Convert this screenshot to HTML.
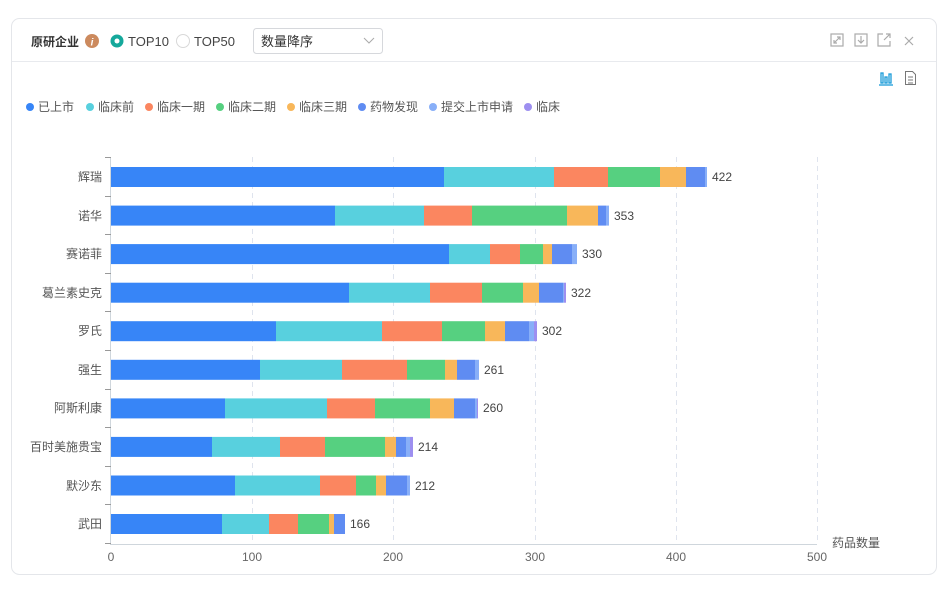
<!DOCTYPE html>
<html><head><meta charset="utf-8"><style>
body{margin:0;width:946px;height:585px;background:#fff;font-family:"Liberation Sans","Noto Sans CJK SC",sans-serif;overflow:hidden}
</style></head><body>
<svg width="946" height="585" xmlns="http://www.w3.org/2000/svg" font-family="Liberation Sans, Noto Sans CJK SC, sans-serif">
<rect x="11.5" y="18.5" width="925" height="556" rx="8" fill="#fff" stroke="#e4e6ea"/>
<line x1="12" y1="61.5" x2="936" y2="61.5" stroke="#e8eaee"/>
<text x="31" y="46" font-size="12" font-weight="bold" fill="#333">原研企业</text>
<circle cx="92" cy="41" r="7" fill="#cc8a5e"/><text x="92" y="45.5" font-size="10" fill="#fff" text-anchor="middle" font-style="italic" font-weight="bold">i</text>
<circle cx="117" cy="41" r="6.5" fill="#15a89b"/><circle cx="117" cy="41" r="2.5" fill="#fff"/>
<text x="128" y="46" font-size="13" fill="#444">TOP10</text>
<circle cx="183" cy="41" r="6.5" fill="#fff" stroke="#d8d8d8"/>
<text x="194" y="46" font-size="13" fill="#444">TOP50</text>
<rect x="253.5" y="28.5" width="129" height="25" rx="3" fill="#fff" stroke="#d6d8dc"/>
<text x="261" y="46" font-size="13" fill="#333">数量降序</text>
<polyline points="364,38 369,43 374,38" fill="none" stroke="#aaa"/>
<g fill="none" stroke="#aaa" stroke-width="1.2">
<rect x="831" y="34" width="12" height="12"/><path d="M834 43l6-6M837 37h3v3M834 40v3h3"/>
<rect x="855" y="34" width="12" height="12"/><path d="M861 36v7M858 40l3 3 3-3"/>
<path d="M883 34h-5v12h12v-5M884 40l6-6M886 34h4v4"/>
<path d="M905 37l8 8M913 37l-8 8"/>
</g>
<g stroke="#1a9bd8" stroke-width="1.3" fill="none"><rect x="881" y="73" width="2" height="10"/><rect x="885" y="77" width="2" height="6"/><rect x="889" y="74" width="2" height="9"/><line x1="879" y1="85" x2="893" y2="85"/></g>
<g stroke="#777" fill="none"><path d="M905.5 71.5h7l3 3v10h-10z"/><path d="M908 77h5M908 80h5M908 83h5"/></g>
<g font-size="12" fill="#555">
<circle cx="30" cy="107" r="4" fill="#3785f7"/><text x="38" y="111">已上市</text>
<circle cx="90" cy="107" r="4" fill="#58d0de"/><text x="98" y="111">临床前</text>
<circle cx="149" cy="107" r="4" fill="#fb8660"/><text x="157" y="111">临床一期</text>
<circle cx="220" cy="107" r="4" fill="#56d080"/><text x="228" y="111">临床二期</text>
<circle cx="291" cy="107" r="4" fill="#f8b75a"/><text x="299" y="111">临床三期</text>
<circle cx="362" cy="107" r="4" fill="#5f8cf2"/><text x="370" y="111">药物发现</text>
<circle cx="433" cy="107" r="4" fill="#88aff8"/><text x="441" y="111">提交上市申请</text>
<circle cx="528" cy="107" r="4" fill="#9d8ff0"/><text x="536" y="111">临床</text>
</g>
<g stroke="#dfe4ee" stroke-dasharray="5,4">
<line x1="252.5" y1="157" x2="252.5" y2="544"/><line x1="393.5" y1="157" x2="393.5" y2="544"/><line x1="535.5" y1="157" x2="535.5" y2="544"/><line x1="676.5" y1="157" x2="676.5" y2="544"/><line x1="817.5" y1="157" x2="817.5" y2="544"/>
</g>
<line x1="111" y1="544.5" x2="817" y2="544.5" stroke="#cfd6dc"/>
<line x1="110.5" y1="157" x2="110.5" y2="545" stroke="#cfd6dc"/>
<g stroke="#999"><line x1="105" y1="157.5" x2="111" y2="157.5"/><line x1="105" y1="196.5" x2="111" y2="196.5"/><line x1="105" y1="234.5" x2="111" y2="234.5"/><line x1="105" y1="273.5" x2="111" y2="273.5"/><line x1="105" y1="311.5" x2="111" y2="311.5"/><line x1="105" y1="350.5" x2="111" y2="350.5"/><line x1="105" y1="389.5" x2="111" y2="389.5"/><line x1="105" y1="427.5" x2="111" y2="427.5"/><line x1="105" y1="466.5" x2="111" y2="466.5"/><line x1="105" y1="504.5" x2="111" y2="504.5"/><line x1="105" y1="543.5" x2="111" y2="543.5"/></g>
<g font-size="12" fill="#666" text-anchor="middle">
<text x="111" y="561">0</text><text x="252" y="561">100</text><text x="393" y="561">200</text><text x="535" y="561">300</text><text x="676" y="561">400</text><text x="817" y="561">500</text>
</g>
<text x="832" y="547" font-size="12" fill="#555">药品数量</text>
<g font-size="12" fill="#555" text-anchor="end">
<text x="102" y="181">辉瑞</text><text x="102" y="220">诺华</text><text x="102" y="258">赛诺菲</text><text x="102" y="297">葛兰素史克</text><text x="102" y="335">罗氏</text><text x="102" y="374">强生</text><text x="102" y="412">阿斯利康</text><text x="102" y="451">百时美施贵宝</text><text x="102" y="490">默沙东</text><text x="102" y="528">武田</text>
</g>
<g>
<rect x="111" y="167" width="333" height="20" fill="#3785f7"/><rect x="444" y="167" width="110" height="20" fill="#58d0de"/><rect x="554" y="167" width="54" height="20" fill="#fb8660"/><rect x="608" y="167" width="52" height="20" fill="#56d080"/><rect x="660" y="167" width="26" height="20" fill="#f8b75a"/><rect x="686" y="167" width="19" height="20" fill="#5f8cf2"/><rect x="705" y="167" width="2" height="20" fill="#88aff8"/>
<rect x="111" y="205.6" width="224" height="20" fill="#3785f7"/><rect x="335" y="205.6" width="89" height="20" fill="#58d0de"/><rect x="424" y="205.6" width="48" height="20" fill="#fb8660"/><rect x="472" y="205.6" width="95" height="20" fill="#56d080"/><rect x="567" y="205.6" width="31" height="20" fill="#f8b75a"/><rect x="598" y="205.6" width="8" height="20" fill="#5f8cf2"/><rect x="606" y="205.6" width="3" height="20" fill="#88aff8"/>
<rect x="111" y="244.1" width="338" height="20" fill="#3785f7"/><rect x="449" y="244.1" width="41" height="20" fill="#58d0de"/><rect x="490" y="244.1" width="30" height="20" fill="#fb8660"/><rect x="520" y="244.1" width="23" height="20" fill="#56d080"/><rect x="543" y="244.1" width="9" height="20" fill="#f8b75a"/><rect x="552" y="244.1" width="20" height="20" fill="#5f8cf2"/><rect x="572" y="244.1" width="5" height="20" fill="#88aff8"/>
<rect x="111" y="282.7" width="238" height="20" fill="#3785f7"/><rect x="349" y="282.7" width="81" height="20" fill="#58d0de"/><rect x="430" y="282.7" width="52" height="20" fill="#fb8660"/><rect x="482" y="282.7" width="41" height="20" fill="#56d080"/><rect x="523" y="282.7" width="16" height="20" fill="#f8b75a"/><rect x="539" y="282.7" width="24" height="20" fill="#5f8cf2"/><rect x="563" y="282.7" width="1" height="20" fill="#88aff8"/><rect x="564" y="282.7" width="2" height="20" fill="#9d8ff0"/>
<rect x="111" y="321.2" width="165" height="20" fill="#3785f7"/><rect x="276" y="321.2" width="106" height="20" fill="#58d0de"/><rect x="382" y="321.2" width="60" height="20" fill="#fb8660"/><rect x="442" y="321.2" width="43" height="20" fill="#56d080"/><rect x="485" y="321.2" width="20" height="20" fill="#f8b75a"/><rect x="505" y="321.2" width="24" height="20" fill="#5f8cf2"/><rect x="529" y="321.2" width="5" height="20" fill="#88aff8"/><rect x="534" y="321.2" width="3" height="20" fill="#9d8ff0"/>
<rect x="111" y="359.8" width="149" height="20" fill="#3785f7"/><rect x="260" y="359.8" width="82" height="20" fill="#58d0de"/><rect x="342" y="359.8" width="65" height="20" fill="#fb8660"/><rect x="407" y="359.8" width="38" height="20" fill="#56d080"/><rect x="445" y="359.8" width="12" height="20" fill="#f8b75a"/><rect x="457" y="359.8" width="18" height="20" fill="#5f8cf2"/><rect x="475" y="359.8" width="4" height="20" fill="#88aff8"/>
<rect x="111" y="398.4" width="114" height="20" fill="#3785f7"/><rect x="225" y="398.4" width="102" height="20" fill="#58d0de"/><rect x="327" y="398.4" width="48" height="20" fill="#fb8660"/><rect x="375" y="398.4" width="55" height="20" fill="#56d080"/><rect x="430" y="398.4" width="24" height="20" fill="#f8b75a"/><rect x="454" y="398.4" width="21" height="20" fill="#5f8cf2"/><rect x="475" y="398.4" width="2" height="20" fill="#88aff8"/><rect x="477" y="398.4" width="1" height="20" fill="#9d8ff0"/>
<rect x="111" y="436.9" width="101" height="20" fill="#3785f7"/><rect x="212" y="436.9" width="68" height="20" fill="#58d0de"/><rect x="280" y="436.9" width="45" height="20" fill="#fb8660"/><rect x="325" y="436.9" width="60" height="20" fill="#56d080"/><rect x="385" y="436.9" width="11" height="20" fill="#f8b75a"/><rect x="396" y="436.9" width="10" height="20" fill="#5f8cf2"/><rect x="406" y="436.9" width="4" height="20" fill="#88aff8"/><rect x="410" y="436.9" width="3" height="20" fill="#9d8ff0"/>
<rect x="111" y="475.5" width="124" height="20" fill="#3785f7"/><rect x="235" y="475.5" width="85" height="20" fill="#58d0de"/><rect x="320" y="475.5" width="36" height="20" fill="#fb8660"/><rect x="356" y="475.5" width="20" height="20" fill="#56d080"/><rect x="376" y="475.5" width="10" height="20" fill="#f8b75a"/><rect x="386" y="475.5" width="21" height="20" fill="#5f8cf2"/><rect x="407" y="475.5" width="3" height="20" fill="#88aff8"/>
<rect x="111" y="514" width="111" height="20" fill="#3785f7"/><rect x="222" y="514" width="47" height="20" fill="#58d0de"/><rect x="269" y="514" width="29" height="20" fill="#fb8660"/><rect x="298" y="514" width="31" height="20" fill="#56d080"/><rect x="329" y="514" width="5" height="20" fill="#f8b75a"/><rect x="334" y="514" width="11" height="20" fill="#5f8cf2"/>
</g>
<g font-size="12" fill="#444">
<text x="712" y="181">422</text><text x="614" y="220">353</text><text x="582" y="258">330</text><text x="571" y="297">322</text><text x="542" y="335">302</text><text x="484" y="374">261</text><text x="483" y="412">260</text><text x="418" y="451">214</text><text x="415" y="490">212</text><text x="350" y="528">166</text>
</g>
</svg>
</body></html>
